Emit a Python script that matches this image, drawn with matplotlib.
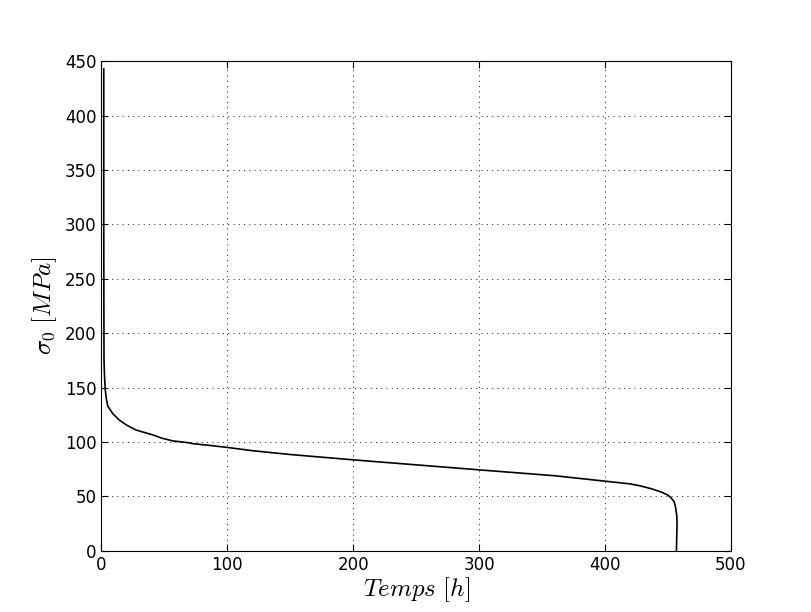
import matplotlib
matplotlib.use("Agg")
import matplotlib.pyplot as plt

plt.rcParams['mathtext.fontset'] = 'cm'
plt.rcParams['font.size'] = 12
plt.rcParams['lines.scale_dashes'] = False

# temps [h] et contrainte sigma_0 [MPa]
temps = [1.8, 1.8, 1.8, 1.9, 2.0, 2.4, 3.0, 3.8, 5.0, 9.0, 14.3, 20.0, 27.5,
         40.8, 48.0, 56.7, 70.0, 72.0, 85.0, 100.0, 120.0, 150.0, 200.0,
         250.0, 300.0, 360.0, 400.0, 420.0, 428.0, 437.0, 445.0, 450.0,
         452.8, 455.0, 456.0, 457.0, 457.3, 457.0, 456.8]
sigma = [443.0, 400.0, 300.0, 220.0, 175.0, 160.0, 148.0, 140.0, 133.0,
         126.0, 120.0, 115.5, 111.0, 106.5, 103.5, 101.0, 99.2, 98.5,
         97.0, 95.0, 92.0, 88.5, 83.6, 79.0, 74.4, 69.0, 64.0, 61.5, 59.7,
         57.0, 53.9, 51.2, 48.4, 45.0, 40.7, 33.0, 25.7, 10.0, 0.0]

fig = plt.figure(figsize=(8.12, 6.12), dpi=100)
ax = fig.add_subplot(111)
fig.subplots_adjust(left=0.125, right=0.9, bottom=0.1, top=0.9)

ax.plot(temps, sigma, color='black', linewidth=1.2)

ax.set_xlim(0, 500)
ax.set_ylim(0, 450)
ax.set_xticks(range(0, 501, 100))
ax.set_yticks(range(0, 451, 50))
ax.grid(True, color='#333333', linestyle=(0, (0.8, 3.0)), linewidth=0.7)
ax.tick_params(direction='in', length=5, top=True, right=True)

ax.set_xlabel(r'$Temps\ [h]$', fontsize=18, labelpad=1)
ax.set_ylabel(r'$\sigma_0\ [MPa]$', fontsize=18)

fig.savefig('out.png', dpi=100)
